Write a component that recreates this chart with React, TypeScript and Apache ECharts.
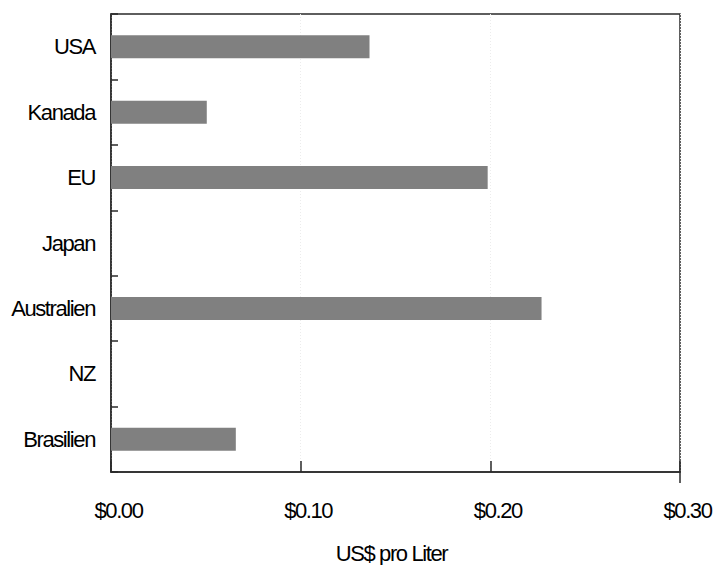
import React, { useEffect, useRef } from "react";
import * as echarts from "echarts";

const categories = ["USA", "Kanada", "EU", "Japan", "Australien", "NZ", "Brasilien"];
const values = [0.1363, 0.0505, 0.1986, 0, 0.227, 0, 0.0658];
const xTicks = { min: 0, max: 0.3, interval: 0.1 };
const xAxisName = "US$ pro Liter";

const GRID = { left: 111, right: 40, top: 14, bottom: 93 };
const W = 720;
const H = 565;
const FONT = "'Liberation Sans', Arial, sans-serif";

export default function App() {
  const ref = useRef<HTMLDivElement>(null);

  useEffect(() => {
    if (!ref.current) return;
    const chart = echarts.init(ref.current, undefined, { renderer: "svg" });
    const axisColor = "#2a2a2a";
    chart.setOption({
      animation: false,
      backgroundColor: "#ffffff",
      textStyle: { fontFamily: FONT },
      grid: {
        left: GRID.left,
        right: GRID.right,
        top: GRID.top,
        bottom: GRID.bottom,
        show: true,
        borderColor: axisColor,
        borderWidth: 1.5,
        containLabel: false,
        outerBoundsMode: "none",
      },
      xAxis: {
        type: "value",
        min: xTicks.min,
        max: xTicks.max,
        interval: xTicks.interval,
        name: xAxisName,
        nameLocation: "middle",
        nameGap: 70,
        nameTextStyle: { color: "#000", fontSize: 22, fontFamily: FONT, padding: [0, 8, 0, 0] },
        axisLine: { show: true, lineStyle: { color: axisColor, width: 1.5 } },
        axisTick: { show: true, inside: true, length: 11, lineStyle: { color: axisColor, width: 1.5 } },
        axisLabel: {
          color: "#000",
          fontSize: 22,
          fontFamily: FONT,
          margin: 27,
          padding: [0, 0, 0, 15],
          formatter: (v: number) => "$" + v.toFixed(2),
        },
        splitLine: { show: true, lineStyle: { color: "#ececec", width: 1, type: [1, 2] } },
      },
      yAxis: {
        type: "category",
        data: categories,
        inverse: true,
        axisLine: { show: true, lineStyle: { color: axisColor, width: 1.5 } },
        axisTick: { show: true, inside: true, length: 7, lineStyle: { color: axisColor, width: 1.5 } },
        axisLabel: { color: "#000", fontSize: 22, fontFamily: FONT, margin: 16 },
        splitLine: { show: false },
      },
      graphic: [
        {
          type: "line",
          shape: { x1: W - GRID.right, y1: H - GRID.bottom, x2: W - GRID.right, y2: H - GRID.bottom + 11 },
          style: { stroke: axisColor, lineWidth: 1.5 },
        },
      ],
      series: [
        {
          type: "bar",
          data: values,
          barWidth: 23,
          itemStyle: { color: "#808080" },
        },
      ],
    });
    return () => chart.dispose();
  }, []);

  return (
    <>
      <style>{`html,body{margin:0;padding:0;} .chart-box text{letter-spacing:-1.4px;}`}</style>
      <div
        ref={ref}
        className="chart-box"
        style={{ position: "fixed", left: 0, top: 0, width: W, height: H, background: "#fff" }}
      />
    </>
  );
}
